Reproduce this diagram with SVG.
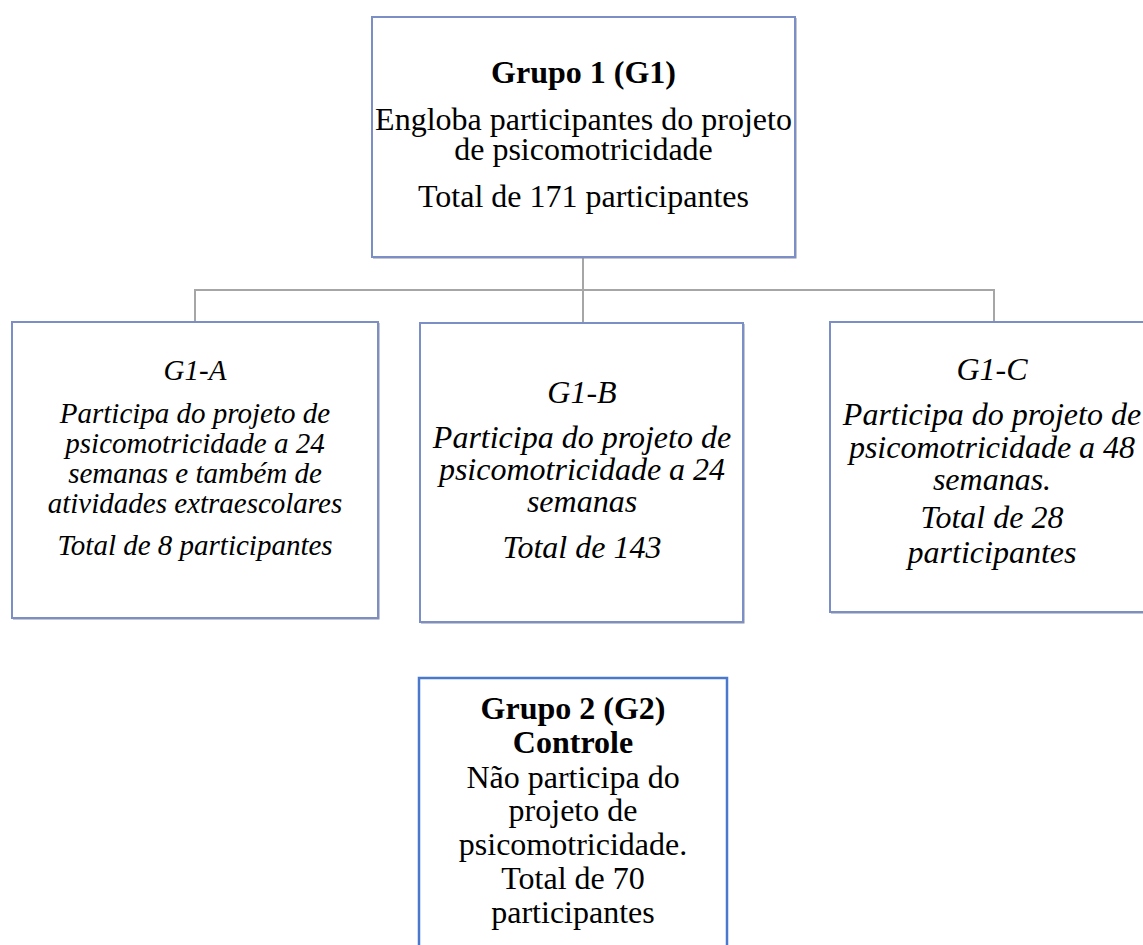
<svg xmlns="http://www.w3.org/2000/svg" width="1143" height="945" viewBox="0 0 1143 945">
<style>
.box{fill:#ffffff;stroke:#7b8fc6;stroke-width:2}
.shadow{fill:none;stroke:#8c909a;stroke-width:2}
.box2{fill:#ffffff;stroke:#4a78cc;stroke-width:2.5}
.conn{fill:none;stroke:#a6a6a6;stroke-width:2}
text{font-family:"Liberation Serif","Times New Roman",serif;fill:#000;text-anchor:middle}
.r{font-size:32px}
.b{font-size:32px;font-weight:bold}
.i{font-size:32px;font-style:italic}
.is{font-size:29px;font-style:italic}
</style>
<rect width="1143" height="945" fill="#ffffff"/>
<g id="connectors">
<line class="conn" x1="583" y1="257" x2="583" y2="323"/>
<polyline class="conn" points="195,322 195,290 994,290 994,322"/>
</g>
<g id="g1">
<polyline class="shadow" points="373,257.5 795.5,257.5 795.5,18"/>
<rect class="box" x="372" y="17" width="423" height="240"/>
<text class="b" x="583.5" y="83">Grupo 1 (G1)</text>
<text class="r" x="583.5" y="130">Engloba participantes do projeto</text>
<text class="r" x="583.5" y="160">de psicomotricidade</text>
<text class="r" x="583.5" y="207">Total de 171 participantes</text>
</g>
<g id="g1a">
<polyline class="shadow" points="13,618.5 378.5,618.5 378.5,323"/>
<rect class="box" x="12" y="322" width="366" height="296"/>
<text class="is" x="195" y="380">G1-A</text>
<text class="is" x="195" y="423">Participa do projeto de</text>
<text class="is" x="195" y="453">psicomotricidade a 24</text>
<text class="is" x="195" y="483">semanas e também de</text>
<text class="is" x="195" y="513">atividades extraescolares</text>
<text class="is" x="195" y="555">Total de 8 participantes</text>
</g>
<g id="g1b">
<polyline class="shadow" points="421,622.5 743.5,622.5 743.5,324"/>
<rect class="box" x="420" y="323" width="323" height="299"/>
<text class="i" x="582" y="403">G1-B</text>
<text class="i" x="582" y="448">Participa do projeto de</text>
<text class="i" x="582" y="480">psicomotricidade a 24</text>
<text class="i" x="582" y="512">semanas</text>
<text class="i" x="582" y="558">Total de 143</text>
</g>
<g id="g1c">
<polyline class="shadow" points="831,612.5 1150,612.5"/>
<rect class="box" x="830" y="322" width="330" height="290"/>
<text class="i" x="992" y="380">G1-C</text>
<text class="i" x="992" y="425">Participa do projeto de</text>
<text class="i" x="992" y="458">psicomotricidade a 48</text>
<text class="i" x="992" y="490">semanas.</text>
<text class="i" x="992" y="528">Total de 28</text>
<text class="i" x="992" y="563">participantes</text>
</g>
<g id="g2">
<rect class="box2" x="419" y="678" width="308" height="290"/>
<text class="b" x="573" y="719">Grupo 2 (G2)</text>
<text class="b" x="573" y="753">Controle</text>
<text class="r" x="573" y="788">Não participa do</text>
<text class="r" x="573" y="821">projeto de</text>
<text class="r" x="573" y="855">psicomotricidade.</text>
<text class="r" x="573" y="889">Total de 70</text>
<text class="r" x="573" y="923">participantes</text>
</g>
</svg>
